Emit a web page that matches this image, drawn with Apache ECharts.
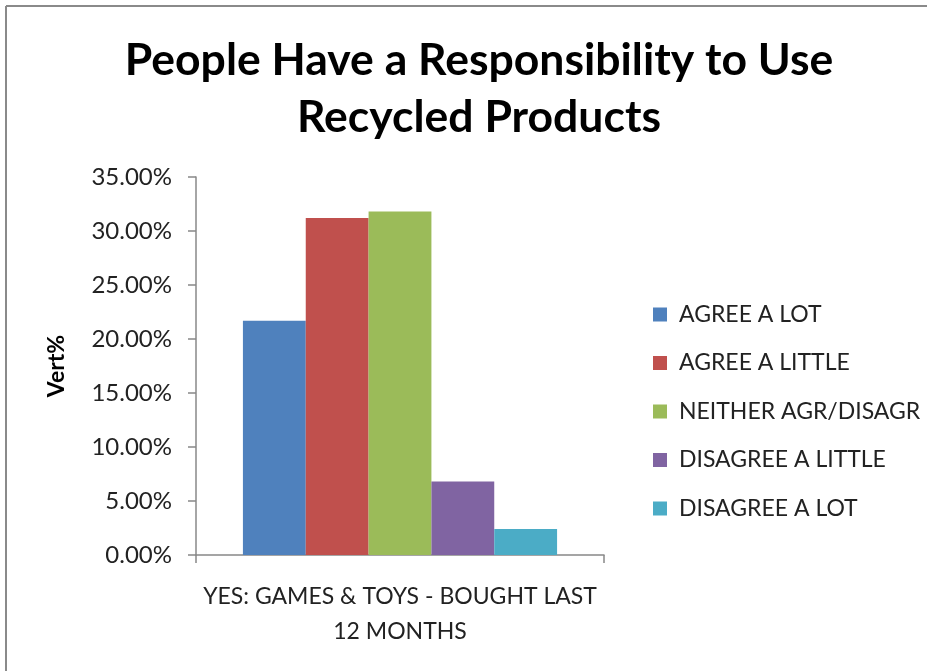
<!DOCTYPE html>
<html>
<head>
<meta charset="utf-8">
<style>
  html, body { margin: 0; padding: 0; background: #fff; }
  #chart { width: 927px; height: 671px; }
</style>
<script src="https://cdn.jsdelivr.net/npm/echarts@6/dist/echarts.min.js"></script>
</head>
<body>
<div id="chart"></div>
<script>
// Survey: "People have a responsibility to use recycled products"
const categories = ['YES: GAMES & TOYS - BOUGHT LAST\n12 MONTHS'];
const seriesNames = ['AGREE A LOT', 'AGREE A LITTLE', 'NEITHER AGR/DISAGR', 'DISAGREE A LITTLE', 'DISAGREE A LOT'];
const seriesValues = [21.7, 31.2, 31.8, 6.8, 2.4];   // vertical percent
const seriesColors = ['#4f81bd', '#c0504d', '#9bbb59', '#8064a2', '#4bacc6'];
const yTicks = { min: 0, max: 35, interval: 5 };

const FONT = 'Lato, "Open Sans", sans-serif';
const textColor = '#222';
const axisColor = '#888';

const chart = echarts.init(document.getElementById('chart'), null, { renderer: 'canvas' });

const series = seriesNames.map((name, i) => ({
  name: name,
  type: 'bar',
  data: [seriesValues[i]],
  barGap: '0%',
  barCategoryGap: '23%',
  itemStyle: { color: seriesColors[i] },
  emphasis: { disabled: true }
}));

chart.setOption({
  animation: false,
  backgroundColor: '#fff',
  title: {
    text: 'People Have a Responsibility to Use\nRecycled Products',
    left: 474,
    textAlign: 'center',
    top: 27,
    textStyle: {
      fontFamily: FONT,
      fontWeight: 'bold',
      fontSize: 44.5,
      lineHeight: 57,
      color: '#000'
    }
  },
  graphic: [
    { type: 'line', shape: { x1: 6, y1: 6, x2: 927, y2: 6 }, style: { stroke: '#8a8a8a', lineWidth: 2 } },
    { type: 'line', shape: { x1: 6, y1: 6, x2: 6, y2: 671 }, style: { stroke: '#8a8a8a', lineWidth: 2 } }
  ],
  legend: {
    orient: 'vertical',
    left: 648,
    top: 298,
    itemWidth: 14,
    itemHeight: 14,
    itemGap: 25.5,
    icon: 'rect',
    selectedMode: false,
    textStyle: {
      fontFamily: FONT,
      fontSize: 23,
      lineHeight: 23,
      color: textColor,
      padding: [0, 0, 0, 7]
    },
    data: seriesNames
  },
  grid: { left: 196, right: 323, top: 177, bottom: 116, containLabel: false },
  xAxis: {
    type: 'category',
    data: categories,
    axisLine: { lineStyle: { color: axisColor, width: 1.5 } },
    axisTick: { show: true, length: 8, alignWithLabel: false, lineStyle: { color: axisColor, width: 1.5 } },
    axisLabel: {
      fontFamily: FONT,
      fontSize: 23,
      lineHeight: 35,
      color: textColor,
      margin: 24
    }
  },
  yAxis: {
    type: 'value',
    min: yTicks.min,
    max: yTicks.max,
    interval: yTicks.interval,
    name: 'Vert%',
    nameLocation: 'middle',
    nameRotate: 90,
    nameGap: 128,
    nameTextStyle: {
      fontFamily: FONT,
      fontWeight: 'bold',
      fontSize: 23,
      color: '#000'
    },
    axisLine: { show: true, lineStyle: { color: axisColor, width: 1.5 } },
    axisTick: { show: true, length: 8, lineStyle: { color: axisColor, width: 1.5 } },
    splitLine: { show: false },
    axisLabel: {
      fontFamily: FONT,
      fontSize: 24,
      color: textColor,
      margin: 24,
      formatter: v => v.toFixed(2) + '%'
    }
  },
  series: series
});
</script>
</body>
</html>
